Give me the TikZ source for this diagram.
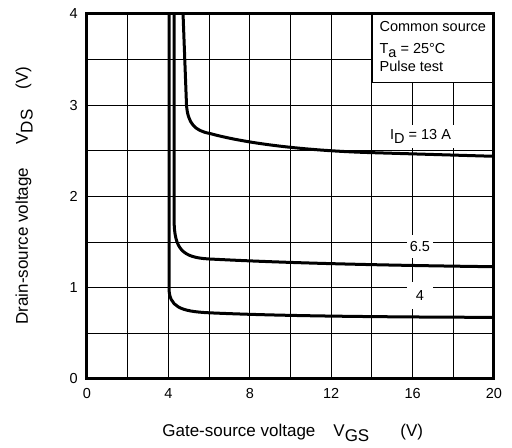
\documentclass[tikz,border=0pt]{standalone}
\usepackage{fontspec}
\setmainfont{Liberation Sans}
\usetikzlibrary{positioning}

\newcommand{\lowsub}[1]{\raisebox{-0.28em}{#1}}

\begin{document}
\begin{tikzpicture}[x=20.35pt, y=91.25pt, thick,
        gridline/.style={line width=1pt},
        curve/.style={line width=3pt, line join=round, line cap=butt},
        ticklbl/.style={inner sep=0pt, font=\fontsize{14.5}{17}\selectfont},
        axislbl/.style={inner sep=0pt, font=\fontsize{17}{20}\selectfont},
        condlbl/.style={inner sep=0pt, anchor=base west, font=\fontsize{14.5}{17}\selectfont},
        idlbl/.style={fill=white, inner sep=0pt, font=\fontsize{14.5}{17}\selectfont}]
        \useasboundingbox (-4.275,-0.756) rectangle (20.885,4.153);

        % grid
        \draw [gridline, xstep=2, ystep=0.5] (0,0) grid (20,4);

        % curve labels, white boxes over the grid
        \node (id13) [idlbl, minimum width=71pt, minimum height=23pt] at (16.39,2.66) {I\lowsub{D} = 13 A};
        \node (id65) [idlbl, minimum width=26pt, minimum height=23pt] at (16.36,1.45) {6.5};
        \node (id4) [idlbl, minimum width=26pt, minimum height=27pt] at (16.36,0.91) {4};

        % the three curves
        \draw [curve] (4.03,4) -- (4.03,1.0)
            .. controls (4.03,0.79) and (4.6,0.74) .. (6,0.725)
            .. controls (9,0.695) and (13,0.68) .. (20,0.675);
        \draw [curve] (4.28,4) -- (4.28,1.75)
            .. controls (4.28,1.42) and (4.7,1.33) .. (6,1.315)
            .. controls (9,1.28) and (13,1.25) .. (20,1.23);
        \draw [curve] (4.72,4) -- (4.89,3.0)
            .. controls (4.96,2.8) and (5.3,2.72) .. (6.04,2.69)
            .. controls (8,2.57) and (11,2.5) .. (14,2.48)
            -- (20,2.44);

        % conditions box
        \draw [fill=white, line width=1.6pt] (14,3.25) rectangle (20,4);
        \node (common) [condlbl] at (14.36,3.806) {Common source};
        \node (temp) [condlbl] at (14.36,3.569) {T\lowsub{a} = 25°C};
        \node (pulse) [condlbl] at (14.36,3.368) {Pulse test};

        % frame
        \draw [line width=3pt] (0,0) rectangle (20,4);

        % tick labels
        \node (y0) [ticklbl, anchor=east] at (-0.44,0) {0};
        \node (y1) [ticklbl, anchor=east] at (-0.44,1) {1};
        \node (y2) [ticklbl, anchor=east] at (-0.44,2) {2};
        \node (y3) [ticklbl, anchor=east] at (-0.44,3) {3};
        \node (y4) [ticklbl, anchor=east] at (-0.44,4) {4};
        \node (x0) [ticklbl] at (0,-0.164) {0};
        \node (x4) [ticklbl] at (4,-0.164) {4};
        \node (x8) [ticklbl] at (8,-0.164) {8};
        \node (x12) [ticklbl] at (12,-0.164) {12};
        \node (x16) [ticklbl] at (16,-0.164) {16};
        \node (x20) [ticklbl] at (20,-0.164) {20};

        % axis titles
        \node (xname) [axislbl, anchor=base west] at (3.685,-0.636) {Gate-source voltage};
        \node (xsym) [axislbl, anchor=base west] at (12.09,-0.636) {V\lowsub{GS}};
        \node (xunit) [axislbl, anchor=base west] at (15.38,-0.636) {(V)};
        \node (yname) [axislbl, anchor=base west, rotate=90] at (-2.90,0.592) {Drain-source voltage};
        \node (ysym) [axislbl, anchor=base west, rotate=90] at (-2.90,2.564) {V\lowsub{DS}};
        \node (yunit) [axislbl, anchor=base west, rotate=90] at (-2.90,3.167) {(V)};
    \end{tikzpicture}
\end{document}
